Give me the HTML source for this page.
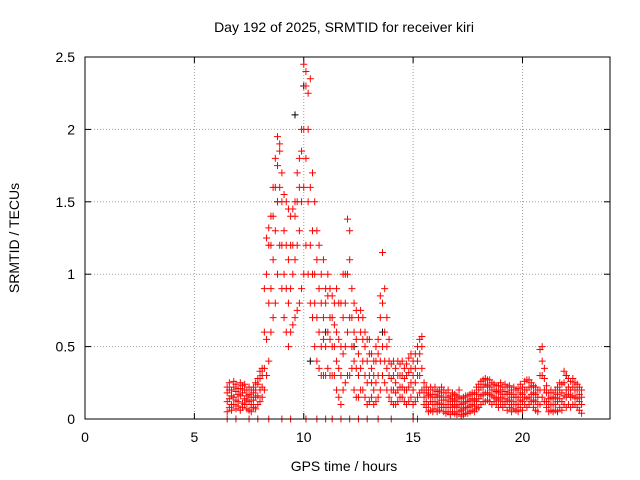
<!DOCTYPE html>
<html><head><meta charset="utf-8">
<style>
html,body{margin:0;padding:0;background:#fff;}
svg{display:block;font-family:"Liberation Sans",sans-serif;}
</style></head>
<body>
<svg id="chart" width="640" height="480" viewBox="0 0 640 480" xmlns="http://www.w3.org/2000/svg">
<rect width="640" height="480" fill="#fff"/>
<text x="344" y="32" font-size="14" text-anchor="middle">Day 192 of 2025, SRMTID for receiver kiri</text>
<g id="grid"></g>
<g id="ticks"></g>
<g id="marks"></g>
<rect x="85" y="57" width="525" height="362" fill="none" stroke="#000" stroke-width="1"/>
<text x="344" y="471" font-size="14" text-anchor="middle">GPS time / hours</text>
<text x="19" y="238" font-size="14" text-anchor="middle" transform="rotate(-90 19 238)">SRMTID / TECUs</text>
</svg>
<script>
const xTicks=[0,5,10,15,20];
const yTicks=[0,0.5,1,1.5,2,2.5];
const yTickLabels=["0","0.5","1","1.5","2","2.5"];
const tStart=6.5, tStep=0.1;
const v1=[.05,.08,.06,.1,.07,.09,.06,.08,.1,.07, .06,.05,.08,.07,.1,.12,.15,.2,.3,.4, .6,.7,.8,1.0,1.2,.9,.7,.6,.5,.6, .65,.7,.75,.8,.9,1.0,1.2,1.0,.8,.7, .5,.4,.35,.3,.3,.3,.35,.3,.3,.3, .2,.15,.1,.2,.25,.3,.3,.35,.2,.15, .15,.2,.2,.15,.1,.12,.15,.1,.12,.15, .2,.3,.25,.2,.15,.12,.1,.1,.12,.15, .15,.12,.1,.12,.15,.1,.12,.15,.18,.2, .1,.08,.05,.06,.05,.07,.05,.06,.08,.05, .04,.05,.03,.05,.04,.03,.05,.02,.03,.04, .04,.05,.06,.05,.07,.08,.1,.12,.12,.13, .12,.1,.12,.1,.08,.1,.08,.1,.06,.08, .05,.07,.06,.05,.08,.06,.1,.08,.1,.12, .08,.06,.05,.1,.15,.12,.08,.05,.06,.05, .06,.05,.08,.06,.1,.08,.1,.08,.1,.1, .08,.06,.04];
const v2=[.12,.14,.1,.15,.13,.12,.16,.11,.14,.13, .12,.1,.13,.15,.16,.2,.22,.35,.55,.8, .9,1.1,1.3,1.5,1.6,1.2,1.0,.9,.8,.9, 1.0,1.1,1.2,1.3,1.5,1.6,1.8,1.5,1.2,1.0, .8,.7,.6,.5,.55,.5,.6,.55,.5,.5, .4,.35,.3,.45,.5,.6,.7,.5,.4,.35, .3,.35,.4,.3,.25,.3,.25,.2,.25,.3, .4,.5,.4,.35,.3,.2,.2,.18,.2,.22, .22,.2,.2,.22,.25,.2,.25,.3,.3,.35, .15,.12,.1,.12,.1,.12,.1,.11,.13,.1, .08,.1,.08,.1,.09,.08,.1,.06,.07,.08, .08,.09,.1,.09,.12,.14,.16,.17,.18,.18, .17,.16,.15,.14,.13,.15,.12,.14,.12,.13, .1,.12,.1,.1,.13,.12,.15,.14,.15,.17, .13,.12,.1,.2,.3,.2,.12,.1,.1,.1, .1,.12,.14,.12,.16,.15,.17,.15,.16,.15, .14,.12,.1];
const v3=[.18,.2,.16,.22,.19,.17,.21,.18,.2,.16, .17,.15,.18,.2,.24,.28,.3,.6,1.0,1.2, 1.2,1.4,1.6,1.75,1.85,1.5,1.3,1.2,1.1,1.2, 1.2,1.4,1.5,1.6,1.85,2.0,2.3,2.0,1.6,1.3, 1.0,1.1,.9,.8,.7,.8,.85,.7,.7,.65, .6,.55,.5,.7,.8,1.0,1.1,.7,.6,.55, .45,.6,.55,.5,.4,.45,.35,.3,.4,.45, .7,.8,.6,.5,.4,.28,.3,.25,.3,.3, .3,.28,.3,.32,.35,.3,.35,.4,.45,.5, .2,.18,.16,.17,.15,.17,.15,.16,.18,.15, .13,.15,.12,.14,.13,.12,.15,.1,.11,.12, .12,.13,.14,.13,.17,.2,.22,.22,.24,.23, .22,.2,.2,.19,.18,.2,.17,.19,.17,.18, .15,.17,.15,.15,.18,.17,.2,.2,.22,.22, .18,.17,.15,.3,.4,.28,.18,.14,.15,.14, .15,.17,.2,.18,.25,.2,.22,.2,.22,.2, .2,.17,.15];
const v4=[.22,.25,.2,.26,.24,.21,.25,.23,.24,.2, .22,.2,.22,.25,.28,.33,.35,.9,1.25,1.32, 1.4,1.6,1.8,1.95,1.9,1.7,1.55,1.5,1.45,1.4, 1.45,1.5,1.7,1.8,2.0,2.45,2.4,2.25,2.35,1.7, 1.5,1.3,1.2,1.0,1.1,.9,1.0,.9,.85,.8, .9,.8,.8,1.0,1.0,1.38,1.3,.9,.8,.75, .7,.75,.7,.6,.55,.55,.45,.4,.5,.55, .85,1.15,.9,.7,.55,.38,.4,.35,.4,.38, .4,.35,.38,.42,.45,.4,.45,.5,.55,.57, .25,.22,.2,.22,.2,.22,.19,.2,.22,.2, .18,.2,.16,.18,.17,.16,.2,.14,.15,.16, .16,.17,.18,.18,.22,.24,.26,.27,.28,.27, .27,.25,.24,.23,.23,.25,.22,.24,.22,.23, .2,.22,.2,.21,.24,.22,.26,.27,.27,.25, .23,.22,.2,.48,.5,.35,.23,.18,.2,.18, .2,.22,.25,.24,.33,.3,.28,.26,.28,.25, .24,.22,.2];
const zeroTimes=[6.5,6.9,7.5,7.9,8.4,9.0,9.4,10.1,10.6,11.0,11.3,11.7,12.1,12.5,12.9,13.4,14.0,15.0,15.2];
const blackTimes=[9.6,10.0,10.3,11.0,12.3,13.6,22.0,8.8];
const blackValues=[2.1,2.3,0.4,0.6,0.5,0.6,0.3,1.5];

const X0=85,X1=610,Y0=419,Y1=57;
const xs=t=>X0+(t/24)*(X1-X0);
const ys=v=>Y0-(v/2.5)*(Y0-Y1);
const NS="http://www.w3.org/2000/svg";
const grid=document.getElementById('grid'),ticks=document.getElementById('ticks'),marks=document.getElementById('marks');
function mk(tag,attrs,parent){const e=document.createElementNS(NS,tag);for(const k in attrs)e.setAttribute(k,attrs[k]);parent.appendChild(e);return e;}
xTicks.forEach(t=>{
  const x=xs(t);
  if(t>0){const g=mk('line',{x1:x,y1:Y1,x2:x,y2:Y0,stroke:'#a0a0a0','stroke-dasharray':'1,2'},grid);
  
  }
  const a=mk('line',{x1:x,y1:Y0,x2:x,y2:Y0-6,stroke:'#000'},ticks);
  
  
  mk('line',{x1:x,y1:Y1,x2:x,y2:Y1+6,stroke:'#000'},ticks);
  const l=mk('text',{x:x,y:Y0+23,'font-size':14,'text-anchor':'middle'},ticks);
  l.textContent=String(t);
  
  
});
yTicks.forEach((v,i)=>{
  const y=ys(v);
  if(v>0&&v<2.5){const g=mk('line',{x1:X0,y1:y,x2:X1,y2:y,stroke:'#a0a0a0','stroke-dasharray':'1,2'},grid);
  
  }
  const a=mk('line',{x1:X0,y1:y,x2:X0+6,y2:y,stroke:'#000'},ticks);
  
  
  mk('line',{x1:X1,y1:y,x2:X1-6,y2:y,stroke:'#000'},ticks);
  const l=mk('text',{x:X0-10,y:y+5,'font-size':14,'text-anchor':'end'},ticks);
  l.textContent=yTickLabels[i];
  
  
});
function plus(t,v,color,name){
  const x=xs(t),y=ys(v);
  const p=mk('path',{d:`M${x-3.5},${y}H${x+3.5}M${x},${y-3.5}V${y+3.5}`,stroke:color,'stroke-width':1,fill:'none'},marks);
  
  
}
blackTimes.forEach((t,i)=>plus(t,blackValues[i],'#000','black-point'));
[v1,v2,v3,v4].forEach(arr=>arr.forEach((v,i)=>plus(tStart+i*tStep,v,'#ff0000','srmtid-point')));
zeroTimes.forEach(t=>plus(t,0,'#ff0000','zero-point'));
</script>
</body></html>
